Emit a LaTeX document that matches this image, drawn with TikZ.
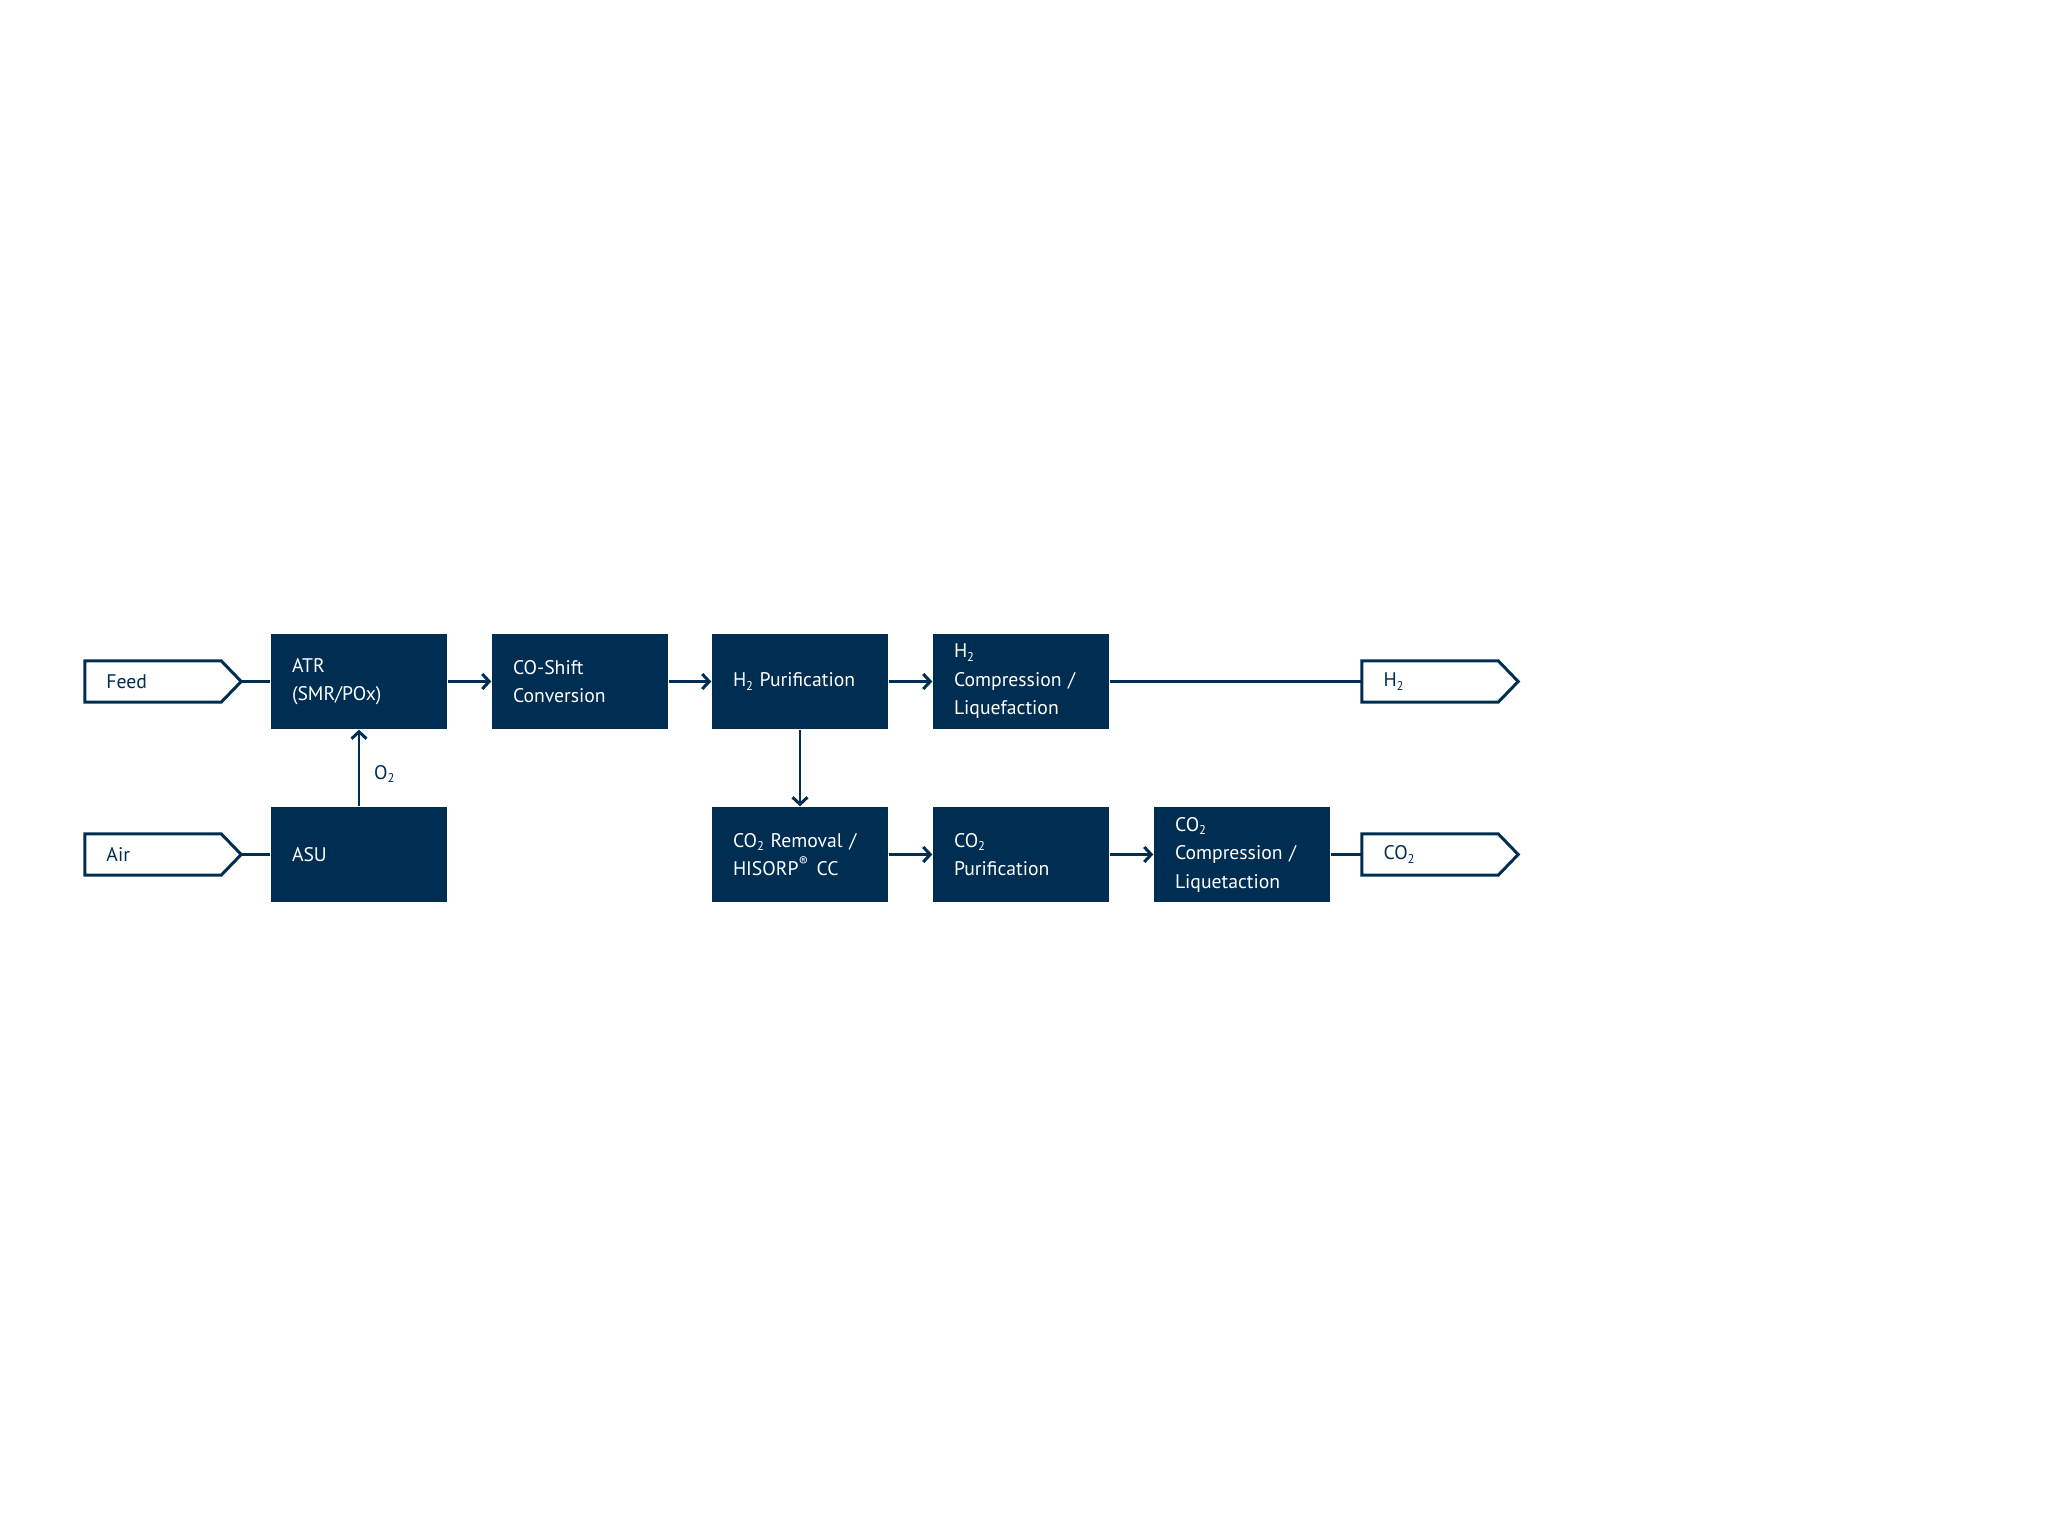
\documentclass[tikz,border=0pt]{standalone}
\usepackage{fontspec}
\setmainfont{PT Sans}
\usetikzlibrary{arrows.meta}
\definecolor{plantblue}{RGB}{0,45,82}
\newcommand{\idx}[1]{\raisebox{-0.35ex}{\fontsize{3.6}{4}\selectfont #1}}
\tikzset{
  unit/.style={fill=plantblue, text=white, minimum width=1.76cm, minimum height=0.95cm,
    text width=1.34cm, inner xsep=0.21cm, inner ysep=0pt, align=left,
    font=\fontsize{5.6}{8.1}\selectfont},
  port/.style={text=plantblue, minimum width=1.35cm, minimum height=0.40cm,
    text width=0.93cm, inner xsep=0.21cm, inner ysep=0pt, align=left,
    font=\fontsize{5.6}{8.1}\selectfont},
  portline/.style={draw=plantblue, line width=0.85pt},
  link/.style={draw=plantblue, line width=0.85pt},
  flow/.style={link, -{Straight Barb[length=0.07cm,width=0.15cm]}}
}

\begin{document}
\begin{tikzpicture}
\useasboundingbox (0,0) rectangle (20.48,-15.36);
% process units
\node[unit] (atr) at (3.59,-6.815) {ATR\\(SMR/POx)};
\node[unit] (shift) at (5.80,-6.815) {CO-Shift\\Conversion};
\node[unit] (hpur) at (8.00,-6.815) {H\idx{2} Purification};
\node[unit] (hcomp) at (10.21,-6.815) {H\idx{2}\\Compression /\\Liquefaction};
\node[unit] (asu) at (3.59,-8.545) {ASU};
\node[unit] (crem) at (8.00,-8.545) {CO\idx{2} Removal /\\HISORP\textsuperscript{®} CC};
\node[unit] (cpur) at (10.21,-8.545) {CO\idx{2}\\Purification};
\node[unit] (ccomp) at (12.42,-8.545) {CO\idx{2}\\Compression /\\Liquetaction};
% streams in and out
\node[port] (feed) at (1.53,-6.815) {Feed};
\node[port] (air) at (1.53,-8.545) {Air};
\node[port] (hout) at (14.30,-6.815) {H\idx{2}};
\node[port] (cout) at (14.30,-8.545) {CO\idx{2}};
\foreach \p in {feed,air,hout,cout}{
	\draw[portline] (\p.north west) -- (\p.north east) -- ([xshift=0.2cm]\p.east)
		-- (\p.south east) -- (\p.south west) -- cycle;
}
% connections
\draw[link] ([xshift=0.2cm]feed.east) -- (atr);
\draw[link] ([xshift=0.2cm]air.east) -- (asu);
\draw[flow] (asu) -- node[right=0.02cm, pos=0.42, text=plantblue, font=\fontsize{5.6}{8.1}\selectfont]{O\idx{2}} (atr);
\draw[flow] (atr) -- (shift);
\draw[flow] (shift) -- (hpur);
\draw[flow] (hpur) -- (hcomp);
\draw[link] (hcomp) -- (hout);
\draw[flow] (hpur) -- (crem);
\draw[flow] (crem) -- (cpur);
\draw[flow] (cpur) -- (ccomp);
\draw[link] (ccomp) -- (cout);
\end{tikzpicture}
\end{document}
